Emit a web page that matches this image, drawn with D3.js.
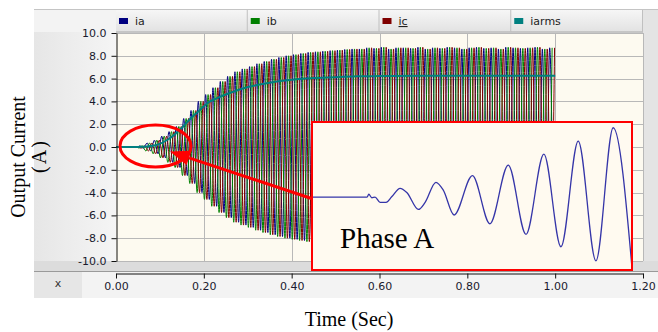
<!DOCTYPE html>
<html><head><meta charset="utf-8">
<script src="https://cdn.jsdelivr.net/npm/d3@7"></script>
<style>body{margin:0;background:#fff}svg{display:block}</style>
</head><body>
<svg id="c" width="658" height="332"></svg>
<script>
// ---------------- data ----------------
const seriesNames = ["ia", "ib", "ic", "iarms"];
const seriesColors = ["#000080", "#008000", "#800000", "#008080"];
const xTicks = [0, 0.2, 0.4, 0.6, 0.8, 1.0, 1.2];
const xTickLabels = ["0.00", "0.20", "0.40", "0.60", "0.80", "1.00", "1.20"];
const yTicks = [10, 8, 6, 4, 2, 0, -2, -4, -6, -8, -10];
const yTickLabels = ["10.0", "8.0", "6.0", "4.0", "2.0", "0.0", "-2.0", "-4.0", "-6.0", "-8.0", "-10.0"];
const waveStart = 0.05;     // s, start of the currents
const waveEnd = 1.0;        // s
const lineFreq = 60;        // Hz
const phaseLag = [0, 1 / 3, 2 / 3]; // fraction of a cycle for ia, ib, ic
// peak amplitude of each cycle (A), read from the envelope
const cycleAmp = [0.1, 0.35, 0.6, 0.95, 1.35, 1.8, 2.5, 3.2, 4.0, 4.6,
  5.2, 5.75, 6.2, 6.6, 6.85, 7.05, 7.3, 7.5, 7.7, 7.85,
  8.0, 8.1, 8.2, 8.3, 8.35, 8.4, 8.45, 8.5, 8.55, 8.6,
  8.6, 8.7, 8.65, 8.75, 8.6, 8.7, 8.7, 8.65, 8.75, 8.6,
  8.7, 8.65, 8.75, 8.7, 8.6, 8.7, 8.75, 8.65, 8.7, 8.6,
  8.75, 8.7, 8.65, 8.7, 8.75, 8.6, 8.7];
const rmsTime = [0, 0.05, 0.09, 0.12, 0.153, 0.17, 0.191, 0.21, 0.229, 0.267, 0.305, 0.343, 0.4, 0.45, 0.5, 0.55, 0.6, 0.7, 0.8, 0.9, 1.0];
const rmsValue = [0, 0, 0.15, 0.7, 1.8, 2.5, 3.25, 3.9, 4.27, 4.85, 5.3, 5.6, 5.9, 6.05, 6.12, 6.2, 6.22, 6.25, 6.25, 6.25, 6.25];
// inset: phase A zoomed
const insetTimeDomain = [0.0245, 0.1727];
const insetValueDomain = [-3.17, 3.26];
const insetTime = [0.0244, 0.050, 0.0508, 0.0522, 0.0537, 0.0560, 0.0588, 0.0614, 0.0653, 0.0684, 0.0738, 0.0769, 0.0819, 0.0853, 0.0903, 0.0988, 0.1069, 0.1154, 0.1236, 0.1319, 0.1398, 0.1478, 0.1560, 0.1640, 0.1730];
const insetValue = [0, 0, 0.12, -0.03, 0.0, -0.23, -0.23, 0.01, 0.38, 0.2, -0.54, -0.23, 0.64, 0.30, -0.78, 0.93, -1.16, 1.39, -1.62, 1.86, -2.16, 2.43, -2.77, 3.01, -3.4];
const insetLabel = "Phase A";
const xTitle = "Time (Sec)";
const yTitle1 = "Output Current";
const yTitle2 = "(A)";

// ---------------- layout ----------------
const svg = d3.select("#c");
const L = 116, R = 643, T = 33, B = 261;
const x = d3.scaleLinear().domain([0, 1.2]).range([L, R]);
const y = d3.scaleLinear().domain([-10, 10]).range([B, T]);
const font = "'DejaVu Sans', Verdana, sans-serif";
const serif = "'Liberation Serif', 'Times New Roman', serif";

const defs = svg.append("defs");
const g1 = defs.append("linearGradient").attr("id", "lp").attr("x1", 0).attr("x2", 1).attr("y1", 0).attr("y2", 0);
g1.append("stop").attr("offset", 0).attr("stop-color", "#e6e6e6");
g1.append("stop").attr("offset", 1).attr("stop-color", "#f5f5f5");
const g2 = defs.append("linearGradient").attr("id", "lg").attr("x1", 0).attr("x2", 0).attr("y1", 0).attr("y2", 1);
g2.append("stop").attr("offset", 0).attr("stop-color", "#f6f6f6");
g2.append("stop").attr("offset", 1).attr("stop-color", "#e2e2e2");
defs.append("clipPath").attr("id", "plotclip").append("rect").attr("x", L).attr("y", T).attr("width", R - L).attr("height", B - T);

// panel backgrounds
svg.append("rect").attr("x", 34).attr("y", 10).attr("width", 658 - 34).attr("height", 288).attr("fill", "#e4e4e4");
svg.append("rect").attr("x", 34).attr("y", 10).attr("width", L - 34).attr("height", 262).attr("fill", "url(#lp)");
svg.append("rect").attr("x", 34).attr("y", 10).attr("width", L - 34).attr("height", 22).attr("fill", "#f3f3f3");
svg.append("rect").attr("x", 34).attr("y", 261).attr("width", 658 - 34).attr("height", 11).attr("fill", "#dcdcdc");
svg.append("rect").attr("x", 34).attr("y", 272).attr("width", 658 - 34).attr("height", 26).attr("fill", "#f3f3f3");
svg.append("rect").attr("x", 34).attr("y", 272).attr("width", 48).attr("height", 26).attr("fill", "#e6e6e6");
svg.append("line").attr("x1", 34).attr("x2", 658).attr("y1", 9.5).attr("y2", 9.5).attr("stroke", "#c4c4c4");
svg.append("line").attr("x1", 34).attr("x2", 658).attr("y1", 271.5).attr("y2", 271.5).attr("stroke", "#9a9a9a");
svg.append("text").attr("x", 58).attr("y", 287).attr("text-anchor", "middle")
  .attr("font-family", font).attr("font-size", 11).attr("fill", "#333").text("x");

// legend row
const cellW = (R - L) / seriesNames.length;
svg.append("rect").attr("x", L).attr("y", 10).attr("width", R - L).attr("height", 22).attr("fill", "url(#lg)");
svg.append("line").attr("x1", L).attr("x2", R).attr("y1", 32).attr("y2", 32).attr("stroke", "#a8a8a8");
seriesNames.forEach((n, i) => {
  const x0 = L + i * cellW;
  svg.append("line").attr("x1", x0 + cellW - 0.5).attr("x2", x0 + cellW - 0.5).attr("y1", 10).attr("y2", 32).attr("stroke", "#c0c0c0");
  svg.append("rect").attr("x", x0 + 3).attr("y", 18).attr("width", 9).attr("height", 6).attr("fill", seriesColors[i]);
  svg.append("text").attr("x", x0 + 19).attr("y", 25).attr("font-family", font).attr("font-size", 11)
    .attr("fill", "#222").attr("text-decoration", n === "ic" ? "underline" : null).text(n);
});

// plot area
svg.append("rect").attr("x", L).attr("y", T).attr("width", R - L).attr("height", B - T).attr("fill", "#fdfaf0");
const grid = svg.append("g").attr("stroke", "#b8b8b8").attr("stroke-width", 1);
xTicks.filter(d => d > 0).forEach(d => grid.append("line").attr("x1", Math.round(x(d)) + 0.5).attr("x2", Math.round(x(d)) + 0.5).attr("y1", T).attr("y2", B));
yTicks.forEach(d => grid.append("line").attr("x1", L).attr("x2", R).attr("y1", Math.round(y(d)) + 0.5).attr("y2", Math.round(y(d)) + 0.5));

// phase currents: extrema of each half cycle joined by the library's monotone curve
function phasePoints(p) {
  const pts = [[0, 0], [waveStart, 0]];
  for (let m = -2; m < 2 * cycleAmp.length + 2; m++) {
    const tau = (phaseLag[p] + 0.25 + 0.5 * m) / lineFreq;
    if (tau < 0) continue;
    const t = waveStart + tau;
    if (t > waveEnd) break;
    const k = Math.min(cycleAmp.length - 1, Math.floor(tau * lineFreq));
    const sign = (m % 2 === 0) ? 1 : -1;
    pts.push([t, sign * cycleAmp[k]]);
  }
  return pts;
}
const line = d3.line().x(d => x(d[0])).y(d => y(d[1])).curve(d3.curveMonotoneX);
const plot = svg.append("g").attr("clip-path", "url(#plotclip)");
[0, 1, 2].forEach(p => {
  plot.append("path").attr("d", line(phasePoints(p))).attr("fill", "none")
    .attr("stroke", seriesColors[p]).attr("stroke-width", 1);
});
plot.append("path").attr("d", line(rmsTime.map((t, i) => [t, rmsValue[i]]))).attr("fill", "none")
  .attr("stroke", seriesColors[3]).attr("stroke-width", 2);

// axes
const yAxis = d3.axisLeft(y).tickValues(yTicks).tickFormat((d, i) => yTickLabels[i]).tickSize(5).tickSizeOuter(0).tickPadding(5);
const ya = svg.append("g").attr("transform", `translate(${L + 0.5},0)`).call(yAxis);
const xAxis = d3.axisBottom(x).tickValues(xTicks).tickFormat((d, i) => xTickLabels[i]).tickSize(5).tickSizeOuter(0).tickPadding(4);
const xa = svg.append("g").attr("transform", `translate(0,${273.5})`).call(xAxis);
[ya, xa].forEach(a => {
  a.selectAll("text").attr("font-family", font).attr("font-size", 11).attr("fill", "#1a1a2e");
  a.selectAll("path,line").attr("stroke", "#111");
});

// titles
svg.append("text").attr("transform", "translate(25,157) rotate(-90)").attr("text-anchor", "middle")
  .attr("font-family", serif).attr("font-size", 20).attr("fill", "#000").text(yTitle1);
svg.append("text").attr("transform", "translate(46,156) rotate(-90)").attr("text-anchor", "middle")
  .attr("font-family", serif).attr("font-size", 20).attr("letter-spacing", 2).attr("fill", "#000").text(yTitle2);
svg.append("text").attr("x", 349).attr("y", 326).attr("text-anchor", "middle")
  .attr("font-family", serif).attr("font-size", 20).attr("fill", "#000").text(xTitle);

// highlight ellipse + arrow
svg.append("ellipse").attr("cx", 155.5).attr("cy", 146).attr("rx", 35.5).attr("ry", 21)
  .attr("fill", "none").attr("stroke", "#f00").attr("stroke-width", 3);
const tip = [170, 151.5], tail = [313, 199];
const ang = Math.atan2(tail[1] - tip[1], tail[0] - tip[0]);
const hl = 20, hw = 7.5;
const bx = tip[0] + hl * Math.cos(ang), by = tip[1] + hl * Math.sin(ang);
svg.append("line").attr("x1", tail[0]).attr("y1", tail[1]).attr("x2", bx).attr("y2", by)
  .attr("stroke", "#f00").attr("stroke-width", 3);
svg.append("path").attr("d", `M${tip[0]},${tip[1]}L${bx - hw * Math.sin(ang)},${by + hw * Math.cos(ang)}L${bx + hw * Math.sin(ang)},${by - hw * Math.cos(ang)}Z`)
  .attr("fill", "#f00");

// inset
const IX0 = 312, IX1 = 632, IY0 = 122, IY1 = 270;
const ix = d3.scaleLinear().domain(insetTimeDomain).range([IX0, IX1]);
const iy = d3.scaleLinear().domain(insetValueDomain).range([IY1, IY0]);
defs.append("clipPath").attr("id", "insetclip").append("rect").attr("x", IX0).attr("y", IY0).attr("width", IX1 - IX0).attr("height", IY1 - IY0);
svg.append("rect").attr("x", IX0).attr("y", IY0).attr("width", IX1 - IX0).attr("height", IY1 - IY0).attr("fill", "#fffaf0");
const iline = d3.line().x(d => ix(d[0])).y(d => iy(d[1])).curve(d3.curveMonotoneX);
svg.append("g").attr("clip-path", "url(#insetclip)").append("path")
  .attr("d", iline(insetTime.map((t, i) => [t, insetValue[i]])))
  .attr("fill", "none").attr("stroke", "#3535a8").attr("stroke-width", 1.3);
svg.append("rect").attr("x", IX0).attr("y", IY0).attr("width", IX1 - IX0).attr("height", IY1 - IY0)
  .attr("fill", "none").attr("stroke", "#f00").attr("stroke-width", 2);
svg.append("text").attr("x", 340).attr("y", 248).attr("font-family", serif).attr("font-size", 29).attr("fill", "#000").text(insetLabel);
</script>
</body></html>
